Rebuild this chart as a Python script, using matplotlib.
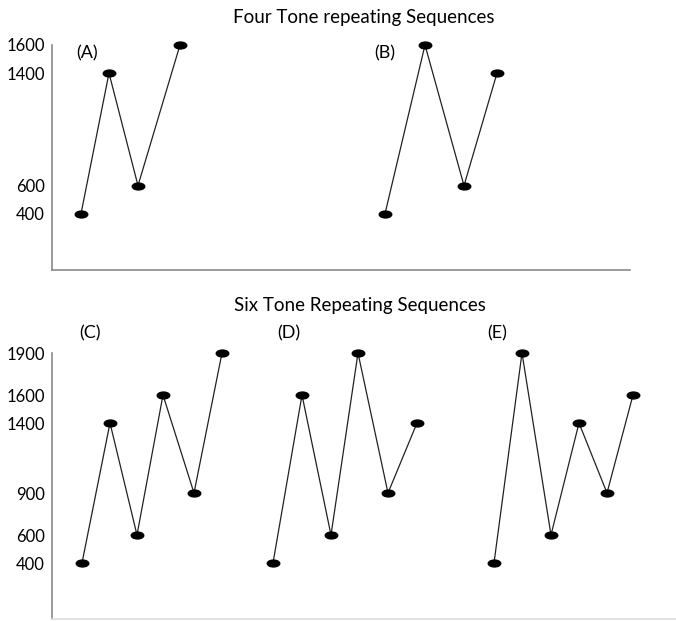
import matplotlib.pyplot as plt
from matplotlib.path import Path
from matplotlib.transforms import Affine2D

plt.rcParams['font.family'] = ['Lato', 'DejaVu Sans']

# tone sequences (Hz) and horizontal positions
four_titles = "Four Tone repeating Sequences"
six_titles = "Six Tone Repeating Sequences"

a_x = [81, 109, 138, 180]
a_y = [400, 1400, 600, 1600]
b_x = [385, 425, 464, 497]
b_y = [400, 1600, 600, 1400]

c_x = [82, 110, 137, 163, 194, 222]
c_y = [400, 1400, 600, 1600, 900, 1900]
d_x = [273, 302, 331, 358, 388, 417]
d_y = [400, 1600, 600, 1900, 900, 1400]
e_x = [494, 522, 551, 579, 607, 633]
e_y = [400, 1900, 600, 1400, 900, 1600]

top_ticks = [400, 600, 1400, 1600]
bottom_ticks = [400, 600, 900, 1400, 1600, 1900]

# flat black ellipse marker
ellipse = Path.unit_circle().transformed(Affine2D().scale(1.0, 0.55))

W, H = 676, 621
fig = plt.figure(figsize=(W / 100, H / 100), dpi=100)


def px_axes(left, top, right, bottom):
    return fig.add_axes([left / W, 1 - bottom / H, (right - left) / W, (bottom - top) / H])


def style(ax, ticks, bottom_color):
    for s in ['top', 'right']:
        ax.spines[s].set_visible(False)
    ax.spines['left'].set_color('#8a8a8a')
    ax.spines['bottom'].set_color(bottom_color)
    ax.spines['left'].set_linewidth(1.2)
    ax.spines['bottom'].set_linewidth(1.2)
    ax.set_xticks([])
    ax.set_yticks(ticks)
    ax.tick_params(axis='y', length=0, pad=5, labelsize=12)


def draw(ax, xs, ys):
    ax.plot(xs, ys, color='#222222', lw=0.9, marker=ellipse, markersize=9,
            markerfacecolor='black', markeredgecolor='black', zorder=3, clip_on=False)


ax1 = px_axes(52, 45, 630, 270)
ax1.set_xlim(52, 630)
ax1.set_ylim(0, 1600)
style(ax1, top_ticks, '#8a8a8a')
draw(ax1, a_x, a_y)
draw(ax1, b_x, b_y)
ax1.text(87, 1540, "(A)", ha='center', va='center', fontsize=13)
ax1.text(385, 1540, "(B)", ha='center', va='center', fontsize=13)

ax2 = px_axes(52, 353, 676, 619)
ax2.set_xlim(52, 676)
ax2.set_ylim(0, 1900)
style(ax2, bottom_ticks, '#dddddd')
draw(ax2, c_x, c_y)
draw(ax2, d_x, d_y)
draw(ax2, e_x, e_y)
ax2.text(90, 2040, "(C)", ha='center', va='center', fontsize=13, clip_on=False)
ax2.text(289, 2040, "(D)", ha='center', va='center', fontsize=13, clip_on=False)
ax2.text(497, 2040, "(E)", ha='center', va='center', fontsize=13, clip_on=False)

fig.text(364 / W, 1 - 17 / H, four_titles, ha='center', va='center', fontsize=13.5)
fig.text(360 / W, 1 - 305 / H, six_titles, ha='center', va='center', fontsize=13.5)

fig.savefig('out.png', dpi=100)
